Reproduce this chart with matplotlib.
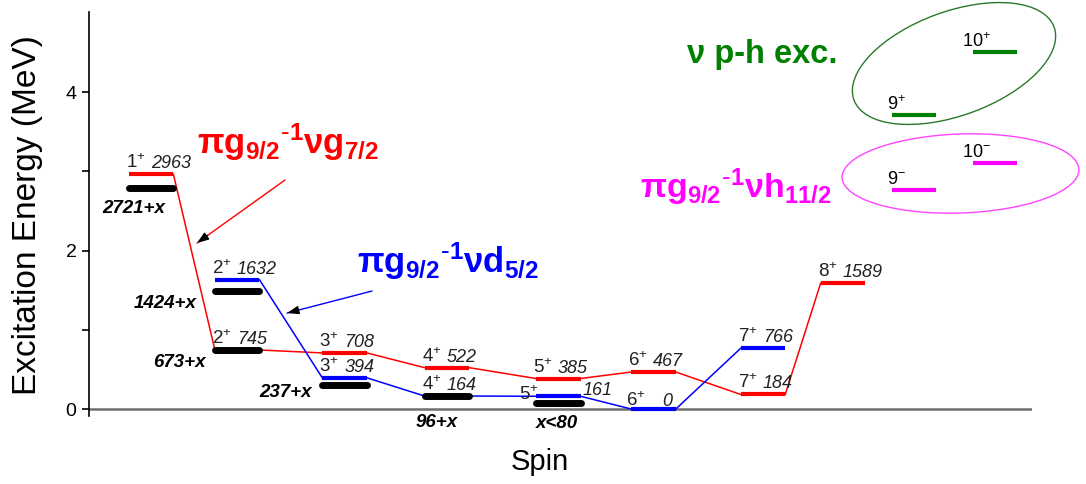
import matplotlib.pyplot as plt
from matplotlib.patches import Ellipse

plt.rcParams['font.family'] = ['Liberation Sans', 'DejaVu Sans']
plt.rcParams['mathtext.default'] = 'regular'

# column centres on the spin axis
col_x = [1.06, 1.91, 2.97, 3.98, 5.08, 6.02, 7.10, 7.89]

# pi g9/2^-1 nu g7/2 multiplet (red), keV
red_col = [0, 1, 2, 3, 4, 5, 6, 7]
red_spin = ['1', '2', '3', '4', '5', '6', '7', '8']
red_e = [2963, 745, 708, 522, 385, 467, 184, 1589]

# pi g9/2^-1 nu d5/2 multiplet (blue), keV
blue_col = [1, 2, 3, 4, 5, 6]
blue_spin = ['2', '3', '4', '5', '6', '7']
blue_e = [1632, 394, 164, 161, 0, 766]

# experimental levels (black), keV
exp_col = [0, 1, 1, 2, 3, 4]
exp_e = [2791, 1494, 743, 307, 166, 70]
exp_lab = ['2721+x', '1424+x', '673+x', '237+x', '96+x', 'x<80']

# nu p-h excitations (green) and pi g9/2^-1 nu h11/2 (magenta)
hi_x = [8.59, 9.39]
green_spin = ['9', '10']
green_e = [3710, 4500]
mag_spin = ['9', '10']
mag_e = [2760, 3100]

hw = 0.22
PX = 0.72  # pixels -> points at dpi 100
txtc = '#222222'

fig = plt.figure(figsize=(10.86, 4.84), dpi=100)
ax = fig.add_axes([89/1086, 1-416/484, 943/1086, 404/484])
ax.set_xlim(0.447, 9.756)
ax.set_ylim(-0.088, 5.01)


def bar(x, e, color, lw, z=3):
    ax.plot([x-hw, x+hw], [e/1000, e/1000], color=color, lw=lw,
            solid_capstyle='butt', zorder=z)


def label(x, e, spin, num, sign='+', dxs=-3, dys=6, dxn=22, dyn=6,
          has='left', size=13.5):
    ax.annotate(r'$\mathregular{%s^{%s}}$' % (spin, sign), (x-hw, e/1000),
                xytext=(dxs*PX, dys*PX), textcoords='offset points',
                ha=has, va='baseline', fontsize=size, color=txtc, zorder=6)
    if num is not None:
        ax.annotate(num, (x-hw, e/1000), xytext=(dxn*PX, dyn*PX),
                    textcoords='offset points', ha='left', va='baseline',
                    fontsize=size-0.5, style='italic', color=txtc, zorder=6)


def chain(cols, es, color):
    for i in range(len(cols)-1):
        x0 = col_x[cols[i]] + hw
        x1 = col_x[cols[i+1]] - hw
        ax.plot([x0, x1], [es[i]/1000, es[i+1]/1000], color=color,
                lw=1.1, zorder=2)
    for c, e in zip(cols, es):
        bar(col_x[c], e, color, 3)


chain(red_col, red_e, 'red')
chain(blue_col, blue_e, 'blue')

for c, s, e in zip(red_col, red_spin, red_e):
    label(col_x[c], e, s, str(e))
for c, s, e in zip(blue_col, blue_spin, blue_e):
    x = col_x[c]
    if e == 161:
        label(x, e, s, None, dxs=3, dys=-4, has='right')
        ax.annotate(str(e), (x+hw, e/1000), xytext=(2*PX, 1*PX),
                    textcoords='offset points', ha='left', va='baseline',
                    fontsize=13, style='italic', color=txtc)
    elif e == 0:
        label(x, e, s, str(e), dxs=-5, dys=3, dyn=3, dxn=31)
    else:
        label(x, e, s, str(e))

# experimental levels
exp_off = [(-17.5, -25), (-72.5, -17), (-58, -17), (-59, -12), (-10, -31), (-1, -25)]
for c, e, lab, (dx, dy) in zip(exp_col, exp_e, exp_lab, exp_off):
    x = col_x[c]
    ax.plot([x-hw, x+hw], [e/1000, e/1000], color='black', lw=5,
            solid_capstyle='round', zorder=4)
    ax.annotate(lab, (x, e/1000), xytext=(dx*PX, dy*PX),
                textcoords='offset points', ha='center', va='baseline',
                fontsize=13.5, fontweight='bold', style='italic',
                color='black')

# high-spin levels
for x, s, e in zip(hi_x, green_spin, green_e):
    bar(x, e, 'green', 3)
    ax.annotate(r'$\mathregular{%s^{+}}$' % s, (x-hw, e/1000),
                xytext=((-5 if s == '9' else -11)*PX, 5*PX),
                textcoords='offset points', ha='left', va='baseline',
                fontsize=13, color='black')
for x, s, e in zip(hi_x, mag_spin, mag_e):
    bar(x, e, 'magenta', 3)
    ax.annotate(r'$\mathregular{%s^{-}}$' % s, (x-hw, e/1000),
                xytext=((-5 if s == '9' else -11)*PX, 6*PX),
                textcoords='offset points', ha='left', va='baseline',
                fontsize=13, color='black')

fig.add_artist(Ellipse((9.54, (484-63.5)/100), 2.13, 1.04, angle=20,
                       transform=fig.dpi_scale_trans, fill=False,
                       ec='#2a7a2a', lw=1))
fig.add_artist(Ellipse((9.605, (484-173.5)/100), 2.37, 0.79, angle=2,
                       transform=fig.dpi_scale_trans, fill=False,
                       ec='#ff44ff', lw=1))

# configuration labels
ax.text(1.513, 3.37, r'$\mathregular{\pi g_{9/2}{}^{\text{-}1}\nu g_{7/2}}$',
        color='red', fontsize=25, fontweight='bold', ha='left', va='center')
ax.text(3.093, 1.865, r'$\mathregular{\pi g_{9/2}{}^{\text{-}1}\nu d_{5/2}}$',
        color='blue', fontsize=25, fontweight='bold', ha='left', va='center')
ax.text(5.886, 2.80, r'$\mathregular{\pi g_{9/2}{}^{\text{-}1}\nu h_{11/2}}$',
        color='magenta', fontsize=24.5, fontweight='bold', ha='left', va='center')
ax.text(6.35, 4.47, 'ν p-h exc.', color='green', fontsize=23.5,
        fontweight='bold', ha='left', va='center')

# arrows: coloured shaft, black head
for tail, head, col in [((2.382, 2.89), (1.513, 2.095), 'red'),
                        ((3.241, 1.489), (2.402, 1.211), 'blue')]:
    ax.annotate('', xy=head, xytext=tail,
                arrowprops=dict(arrowstyle='-', color=col, lw=1,
                                shrinkA=0, shrinkB=0))
    back = (head[0] + 0.12*(tail[0]-head[0]), head[1] + 0.12*(tail[1]-head[1]))
    ax.annotate('', xy=head, xytext=back,
                arrowprops=dict(arrowstyle='-|>,head_length=0.7,head_width=0.25',
                                color='black', lw=1, shrinkA=0, shrinkB=0))

ax.axhline(0, color='#6e6e6e', lw=1.8, zorder=1)
for s in ['top', 'right', 'bottom']:
    ax.spines[s].set_visible(False)
ax.spines['left'].set_linewidth(1.2)
ax.set_xticks([])
ax.set_yticks([0, 1, 2, 3, 4])
ax.set_yticklabels(['0', '', '2', '', '4'])
ax.tick_params(axis='y', direction='out', length=5, width=1.2, labelsize=14, pad=4)

fig.text(28/1086, 1-215/484, 'Excitation Energy (MeV)', rotation=90,
         ha='center', va='center', fontsize=24)
fig.text(540/1086, 1-462/484, 'Spin', ha='center', va='center', fontsize=21)

fig.savefig('out.png', dpi=100)
